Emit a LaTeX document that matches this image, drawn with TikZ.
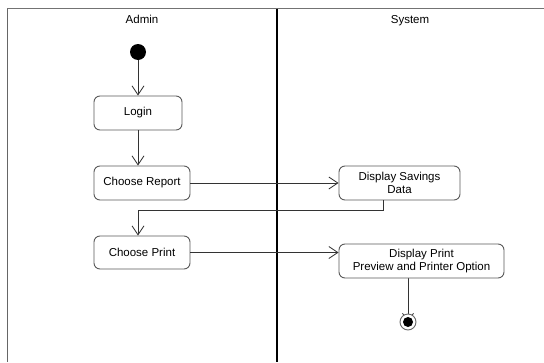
\documentclass[tikz,border=0pt]{standalone}
\usepackage{fontspec}
\setmainfont{Liberation Sans}
\usetikzlibrary{arrows.meta,backgrounds}
\begin{document}
\begin{tikzpicture}[x=1pt,y=-1pt,
  font=\fontsize{11.5}{13}\selectfont,
  action/.style={draw=black!65, line width=0.9pt, rounded corners=6pt, fill=white, align=center, inner sep=2pt, minimum height=34pt},
  startstate/.style={circle, fill=black, minimum size=16pt, inner sep=0pt},
  endstate/.style={circle, fill=white, draw=black!60, line width=0.9pt, minimum size=16pt, inner sep=0pt,
    path picture={\fill[black] (path picture bounding box.center) circle (5pt);}},
  flow/.style={draw=black!80, line width=0.8pt, -{Straight Barb[length=9pt,width=12pt,line width=0.8pt]}},
  lanelabel/.style={anchor=base, inner sep=0pt},
  lane/.style={line width=1.4pt}]
\useasboundingbox (0,0) rectangle (544,362);
% swimlanes
\draw[lane, draw=black!55] (7,8.5) -- (544,8.5);
\draw[lane, draw=black!60] (7.5,8.5) -- (7.5,362);
\draw[line width=1.8pt, draw=black] (277,8.5) -- (277,362);
\node[lanelabel] (admin) at (142,23) {Admin};
\node[lanelabel] (system) at (410,23) {System};
% nodes
\node[startstate] (start) at (138,52) {};
\node[action, minimum width=88pt] (login) at (138,113) {Login};
\node[action, minimum width=96pt] (report) at (142,183) {Choose Report};
\node[action, minimum width=96pt, minimum height=33pt] (print) at (142,252.5) {Choose Print};
\node[action, minimum width=121pt] (ds) at (399.5,183) {Display Savings\\Data};
\node[action, minimum width=165pt] (dp) at (421.5,261) {Display Print\\Preview and Printer Option};
\node[endstate] (end) at (408,322) {};
\coordinate (turn) at (138,210);
% connectors
\draw[flow] (start) -- (login);
\draw[flow] (login.south) -- (login.south |- report.north);
\draw[flow] (report.east) -- (ds.west);
\draw[flow] ([xshift=-16.5pt]ds.south) |- (turn) -- (print.north -| turn);
\draw[flow] (print.east) -- (print.east -| dp.west);
\begin{scope}[on background layer]
\draw[flow, -{Straight Barb[length=8pt,width=11pt,line width=0.8pt]}] (end |- dp.south) -- (end.center);
\end{scope}
\end{tikzpicture}
\end{document}
